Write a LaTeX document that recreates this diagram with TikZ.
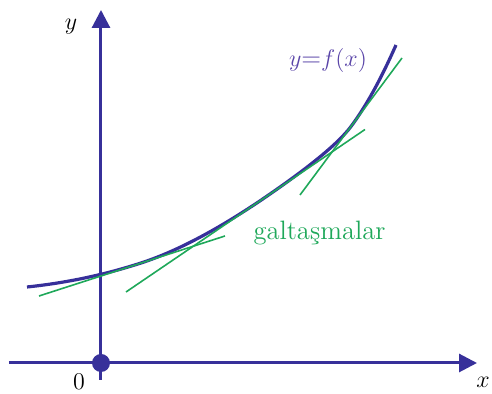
\documentclass[tikz,border=0pt]{standalone}
\usetikzlibrary{arrows.meta}
\definecolor{azul}{HTML}{37309A}
\definecolor{morado}{HTML}{5A45A8}
\definecolor{verde}{HTML}{1FA85A}

\begin{document}
\begin{tikzpicture}[x=0.5pt,y=0.5pt,
  eje/.style={azul,line width=1.5pt,-{Triangle[length=9pt,width=9pt]}},
  curva/.style={azul,line width=1.6pt},
  tang/.style={verde,line width=0.8pt},
  every node/.style={inner sep=0pt,font=\fontsize{12}{14}\selectfont}]
  \useasboundingbox (-101,-31) rectangle (391,363);

  % Ejes
  \coordinate (x0) at (-92,0);
  \coordinate (x1) at (376,0);
  \coordinate (y0) at (0,-17);
  \coordinate (y1) at (0,353);
  \draw[eje] (x0) -- (x1);
  \draw[eje] (y0) -- (y1);
  \fill[azul] (0,0) circle (9);

  % Puntos de contacto de las tangentes
  \coordinate (pA) at (40,100);
  \coordinate (pB) at (160,162.8);
  \coordinate (pC) at (250,236.5);

  % Curva y=f(x)
  \draw[curva] (-74,76) .. controls (-34.7,80.1) and (3.3,88.1) .. (pA)
    .. controls (74.7,111.3) and (114.7,132.3) .. (pB)
    .. controls (207.3,194.9) and (237.3,219.5) .. (pC)
    .. controls (264.7,256.2) and (279.7,283.3) .. (295,318);

  % Rectas tangentes
  \coordinate (a1) at (-62,67);
  \coordinate (a2) at (124,127);
  \coordinate (b1) at (25,71);
  \coordinate (b2) at (264,233.5);
  \coordinate (c1) at (199,168);
  \coordinate (c2) at (301,305);
  \foreach \from/\to in {a1/a2, b1/b2, c1/c2}
    \draw[tang] (\from) -- (\to);

  % Etiquetas
  \node (cero) at (-22,-19) {0};
  \node (ex) at (382,-19) {$x$};
  \node (ye) at (-30,336) {$y$};
  \node[morado,font=\fontsize{13}{15}\selectfont] (fx) at (227,302) {$y$=$f(x)$};
  \node[verde,anchor=base,font=\fontsize{13.3}{15}\selectfont] (galt) at (218.5,123) {galtaşmalar};
\end{tikzpicture}
\end{document}
